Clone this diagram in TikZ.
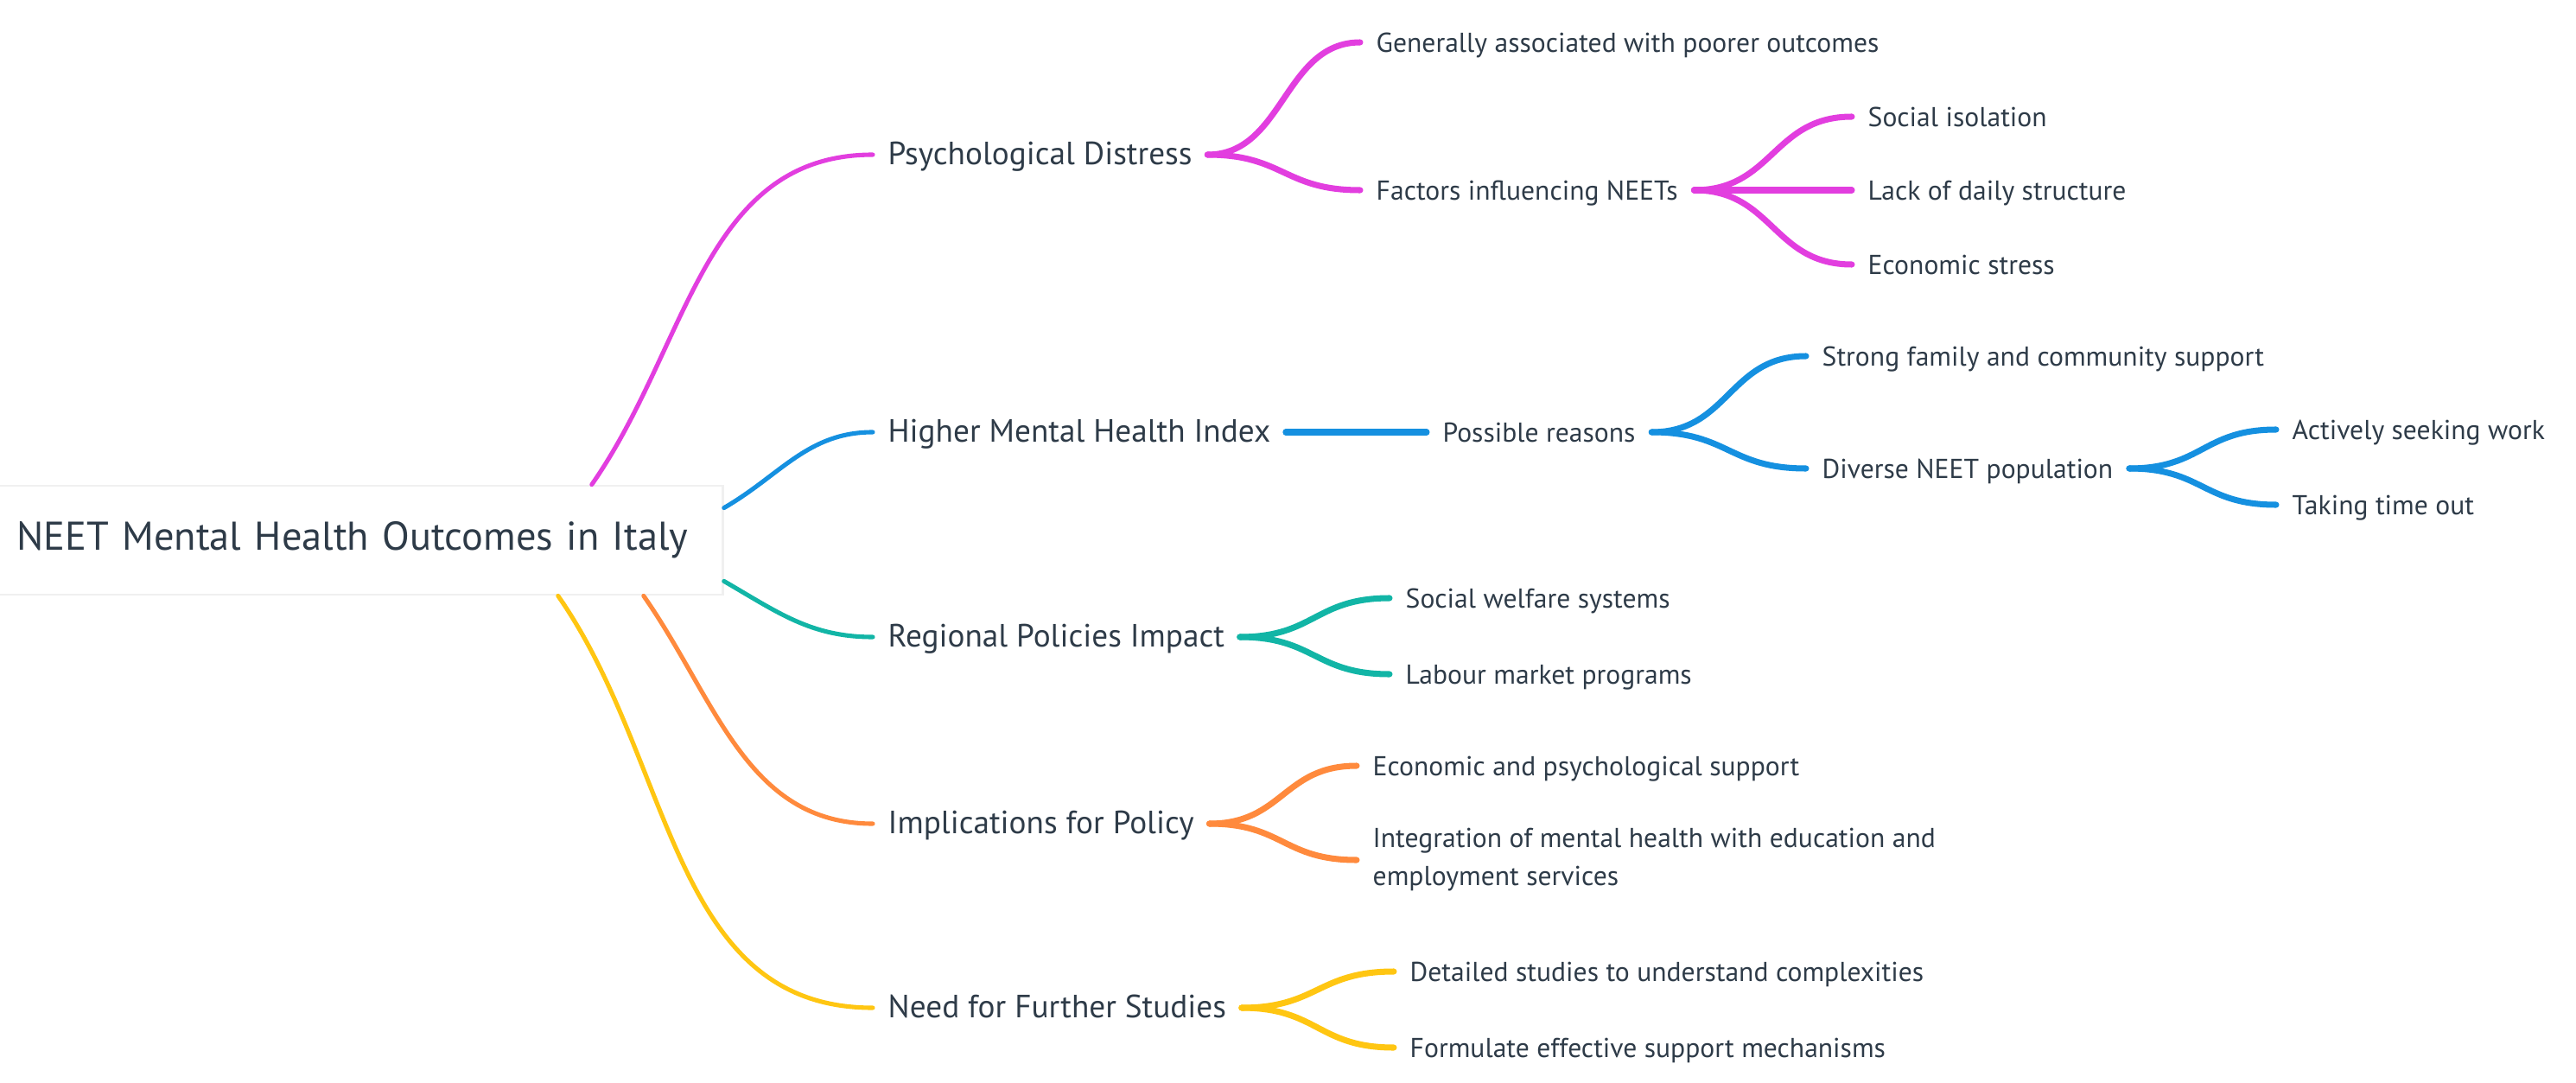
\documentclass[tikz,border=0pt]{standalone}
\usepackage{fontspec}
\setmainfont{PT Sans}
\usetikzlibrary{positioning,calc}

\definecolor{inkTxt}{HTML}{2E3B48}
\definecolor{cPsy}{HTML}{E23EDF}
\definecolor{cHigh}{HTML}{1590E0}
\definecolor{cReg}{HTML}{12B5A6}
\definecolor{cImp}{HTML}{FF8A3D}
\definecolor{cNeed}{HTML}{FFC612}

\begin{document}
\begin{tikzpicture}[
    rootbox/.style={draw=black!6, line width=0.8pt, fill=white, text=inkTxt, anchor=west,
      font=\fontsize{13.2}{15}\selectfont, text width=7.89cm, align=left,
      inner xsep=0.28cm, minimum height=1.26cm},
    lvlone/.style={text=inkTxt, anchor=west, inner xsep=0.17cm,
      font=\fontsize{10.6}{12}\selectfont, text height=1.6ex, text depth=0.3ex},
    lvltwo/.style={text=inkTxt, anchor=west, inner xsep=0.18cm,
      font=\fontsize{9}{12.5}\selectfont, text height=1.6ex, text depth=0.3ex},
    twoline/.style={text=inkTxt, anchor=west, inner xsep=0.18cm,
      font=\fontsize{9}{12.5}\selectfont, align=left},
    trunk/.style={line width=1.45pt, line cap=round},
    twig/.style={line width=2pt, line cap=round},
    mmlink/.style={to path={let \p1=(\tikztostart), \p2=(\tikztotarget) in
      .. controls ({(\x1+\x2)/2},\y1) and ({(\x1+\x2)/2},\y2) .. (\tikztotarget)}},
  ]
  \useasboundingbox (0,0) rectangle (29.81,-12.53);

  % root
  \node[rootbox] (root) at (-0.1,-6.25) {NEET Mental Health Outcomes in Italy};

  % first level
  \node[lvlone] (psy)  at (10.10,-1.79)  {Psychological Distress};
  \node[lvlone] (high) at (10.10,-5.00)  {Higher Mental Health Index};
  \node[lvlone] (reg)  at (10.10,-7.37)  {Regional Policies Impact};
  \node[lvlone] (imp)  at (10.10,-9.53)  {Implications for Policy};
  \node[lvlone] (need) at (10.10,-11.66) {Need for Further Studies};

  % root to first level
  \draw[trunk, cPsy]  ([xshift=-1.53cm]root.north east) to[out=55,in=180] (psy.west);
  \draw[trunk, cHigh] ([yshift=-0.27cm]root.north east) to[out=30,in=180] (high.west);
  \draw[trunk, cReg]  ([yshift=0.17cm]root.south east) to[out=-30,in=180] (reg.west);
  \draw[trunk, cImp]  ([xshift=-0.93cm]root.south east) to[out=-55,in=180] (imp.west);
  \draw[trunk, cNeed] ([xshift=-1.92cm]root.south east) to[out=-55,in=180] (need.west);

  % psychological distress
  \node[lvltwo] (gen)  at (15.74,-0.49) {Generally associated with poorer outcomes};
  \node[lvltwo] (fac)  at (15.74,-2.20) {Factors influencing NEETs};
  \node[lvltwo] (iso)  at (21.43,-1.35) {Social isolation};
  \node[lvltwo] (lack) at (21.43,-2.20) {Lack of daily structure};
  \node[lvltwo] (eco)  at (21.43,-3.06) {Economic stress};
  \draw[twig, cPsy] (psy.east) to[mmlink] (gen.west);
  \draw[twig, cPsy] (psy.east) to[mmlink] (fac.west);
  \draw[twig, cPsy] (fac.east) to[mmlink] (iso.west);
  \draw[twig, cPsy] (fac.east) -- (lack.west);
  \draw[twig, cPsy] (fac.east) to[mmlink] (eco.west);

  % mental health index
  \node[lvltwo] (why)  at (16.51,-5.00) {Possible reasons};
  \node[lvltwo] (fam)  at (20.90,-4.12) {Strong family and community support};
  \node[lvltwo] (div)  at (20.90,-5.42) {Diverse NEET population};
  \node[lvltwo] (seek) at (26.34,-4.97) {Actively seeking work};
  \node[lvltwo] (time) at (26.34,-5.84) {Taking time out};
  \draw[twig, cHigh] (high.east) -- (why.west);
  \draw[twig, cHigh] (why.east) to[mmlink] (fam.west);
  \draw[twig, cHigh] (why.east) to[mmlink] (div.west);
  \draw[twig, cHigh] (div.east) to[mmlink] (seek.west);
  \draw[twig, cHigh] (div.east) to[mmlink] (time.west);

  % regional policies
  \node[lvltwo] (wel) at (16.08,-6.92) {Social welfare systems};
  \node[lvltwo] (lab) at (16.08,-7.80) {Labour market programs};
  \draw[twig, cReg] (reg.east) to[mmlink] (wel.west);
  \draw[twig, cReg] (reg.east) to[mmlink] (lab.west);

  % implications
  \node[lvltwo]  (sup) at (15.70,-8.86) {Economic and psychological support};
  \node[twoline] (int) at (15.70,-9.95) {Integration of mental health with education and\\employment services};
  \draw[twig, cImp] (imp.east) to[mmlink] (sup.west);
  \draw[twig, cImp] (imp.east) to[mmlink] (int.west);

  % further studies
  \node[lvltwo] (det)  at (16.13,-11.24) {Detailed studies to understand complexities};
  \node[lvltwo] (form) at (16.13,-12.12) {Formulate effective support mechanisms};
  \draw[twig, cNeed] (need.east) to[mmlink] (det.west);
  \draw[twig, cNeed] (need.east) to[mmlink] (form.west);
\end{tikzpicture}
\end{document}
